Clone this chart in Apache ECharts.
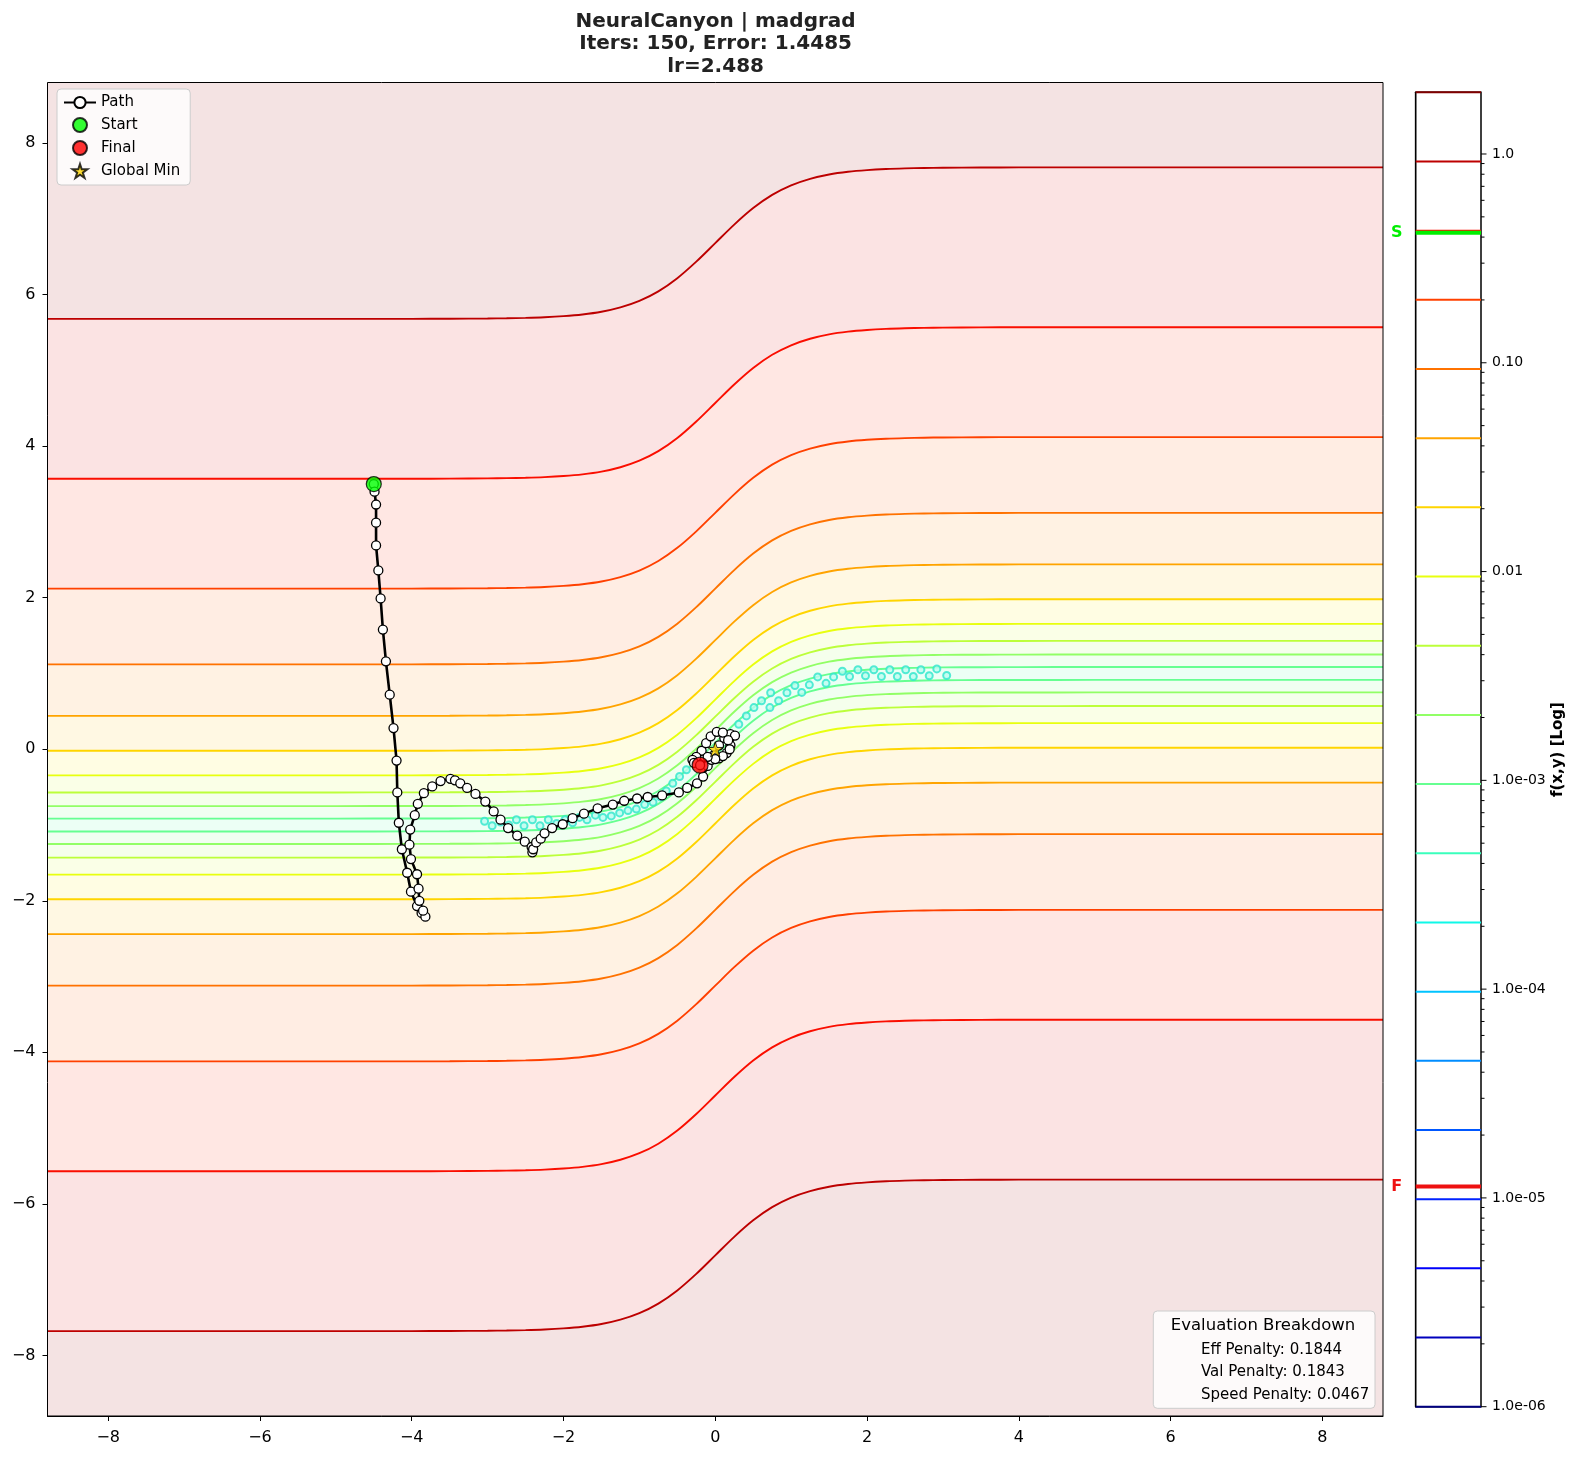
<!DOCTYPE html>
<html>
<head>
<meta charset="utf-8">
<script src="https://cdn.jsdelivr.net/npm/echarts@6/dist/echarts.min.js"></script>
<style>
html, body { margin: 0; padding: 0; background: #fff; }
#chart { width: 1577px; height: 1458px; }
</style>
</head>
<body>
<div id="chart"></div>
<script>
//谷底中心线的过渡形状 (读图: 左侧 -1, 右侧 +1)
var profX = [-8.8, -5, -4, -3.5, -3, -2.75, -2.5, -2.25, -2, -1.75, -1.5, -1.25, -1, -0.75, -0.5, -0.25,
	0, 0.25, 0.5, 0.75, 1, 1.25, 1.5, 1.75, 2, 2.25, 2.5, 2.75, 3, 3.5, 4, 5, 8.8];
var profF = [0, 0, 0.0003, 0.0009, 0.0025, 0.0041, 0.0067, 0.011, 0.018, 0.029, 0.047, 0.076, 0.119, 0.182, 0.269, 0.378,
	0.5, 0.622, 0.731, 0.818, 0.881, 0.924, 0.953, 0.971, 0.982, 0.989, 0.9933, 0.9959, 0.9975, 0.9991, 0.9997, 1, 1];
var valleyLeft = -1;
var valleyRight = 1;

//等高线层级 (颜色条序号) 与到谷底的距离
var levelIdx = [9, 10, 11, 12, 13, 14, 15, 16, 17, 18];
var levelOffset = [0.085, 0.25, 0.43, 0.655, 0.98, 1.44, 2.12, 3.12, 4.57, 6.68];

//优化路径
var pathX = [-4.50, -4.49, -4.47, -4.47, -4.47, -4.44, -4.41, -4.38, -4.34, -4.29,
	-4.24, -4.20, -4.19, -4.17, -4.13, -4.06, -4.01, -3.93, -3.87, -3.82,
	-3.85, -3.90, -3.91, -3.93, -4.01, -4.03, -4.02, -3.96, -3.92, -3.84,
	-3.73, -3.62, -3.49, -3.43, -3.36, -3.27, -3.16, -3.03, -2.92, -2.83,
	-2.73, -2.61, -2.51, -2.42, -2.41, -2.40, -2.36, -2.30, -2.25, -2.15,
	-2.01, -1.88, -1.73, -1.55, -1.35, -1.20, -1.03, -0.89, -0.70, -0.48,
	-0.37, -0.24, -0.16, -0.10, -0.02, 0.05, 0.12, 0.20, 0.26, 0.20,
	0.15, 0.05, -0.05, -0.14, -0.18, -0.12, -0.06, 0.02, 0.10, 0.17,
	0.19, 0.10, 0.00, -0.10, -0.25, -0.30, -0.28, -0.20];
var pathY = [3.50, 3.40, 3.23, 2.99, 2.69, 2.36, 1.99, 1.58, 1.16, 0.72,
	0.28, -0.15, -0.57, -0.97, -1.32, -1.63, -1.88, -2.07, -2.16, -2.21,
	-2.13, -2.00, -1.84, -1.65, -1.45, -1.26, -1.06, -0.87, -0.72, -0.58,
	-0.49, -0.42, -0.39, -0.41, -0.45, -0.51, -0.59, -0.69, -0.82, -0.93,
	-1.04, -1.14, -1.22, -1.29, -1.36, -1.32, -1.23, -1.18, -1.11, -1.04,
	-0.99, -0.91, -0.85, -0.78, -0.73, -0.68, -0.65, -0.63, -0.61, -0.57,
	-0.51, -0.45, -0.36, -0.22, -0.08, 0.05, 0.15, 0.20, 0.18, 0.05,
	-0.05, -0.12, -0.14, -0.10, -0.02, 0.08, 0.17, 0.23, 0.22, 0.12,
	0.00, -0.09, -0.13, -0.10, -0.10, -0.14, -0.18, -0.21];
var startPt = [-4.50, 3.50];
var finalPt = [-0.20, -0.21];
var globalMin = [0, 0];

//谷底的小闭合等高线
var islandX = [-3.04, -2.94, -2.83, -2.72, -2.62, -2.52, -2.41, -2.31, -2.20, -2.09,
	-1.98, -1.88, -1.79, -1.69, -1.58, -1.48, -1.37, -1.26, -1.15, -1.04,
	-0.93, -0.82, -0.72, -0.645, -0.56, -0.47, -0.38,
	0.31, 0.41, 0.51, 0.61, 0.72, 0.73, 0.835, 0.945, 1.05, 1.14,
	1.24, 1.35, 1.46, 1.56, 1.675, 1.77, 1.88, 1.98, 2.09, 2.19,
	2.30, 2.40, 2.51, 2.61, 2.71, 2.82, 2.92, 3.05];
var islandY = [-0.95, -1.01, -0.96, -1.00, -0.93, -1.01, -0.93, -1.01, -0.93, -0.98,
	-0.93, -0.97, -0.90, -0.93, -0.87, -0.90, -0.88, -0.84, -0.81, -0.79,
	-0.73, -0.70, -0.63, -0.55, -0.45, -0.36, -0.27,
	0.33, 0.44, 0.55, 0.64, 0.55, 0.745, 0.64, 0.745, 0.84, 0.75,
	0.85, 0.955, 0.87, 0.955, 1.03, 0.96, 1.05, 0.97, 1.05, 0.96,
	1.05, 0.96, 1.05, 0.96, 1.05, 0.97, 1.06, 0.973];

//颜色条
var cbTicks = [-6, -5, -4, -3, -2, -1, 0];
var cbTickLabels = ['1.0e-06', '1.0e-05', '1.0e-04', '1.0e-03', '0.01', '0.10', '1.0'];
var cbLevelCount = 20;
var cbLogMin = -6;
var cbLogMax = 0.2955;
var startLoss = 0.42;
var finalLoss = 1.135e-5;

//jet 色图
var jetR = [[0, 0], [0.35, 0], [0.66, 1], [0.89, 1], [1, 0.5]];
var jetG = [[0, 0], [0.125, 0], [0.375, 1], [0.64, 1], [0.91, 0], [1, 0]];
var jetB = [[0, 0.5], [0.11, 1], [0.34, 1], [0.65, 0], [1, 0]];
var seg = function(t, p) {
	for(var i = 1; i < p.length; i++) {
		if(t <= p[i][0]) {
			var f = (t - p[i - 1][0]) / (p[i][0] - p[i - 1][0]);
			return p[i - 1][1] + f * (p[i][1] - p[i - 1][1]);
		}
	}
	return p[p.length - 1][1];
};
var jet = function(t, a) {
	var r = seg(t, jetR), g = seg(t, jetG), b = seg(t, jetB);
	if(a != null) {
		r = 1 - a + a * r;
		g = 1 - a + a * g;
		b = 1 - a + a * b;
	}
	return 'rgb(' + Math.round(r * 255) + ',' + Math.round(g * 255) + ',' + Math.round(b * 255) + ')';
};
var fillAlpha = 0.11;
var FONT = 'DejaVu Sans';

var contourData = function(off) {
	return profX.map(function(x, i) {
		return [x, valleyLeft + (valleyRight - valleyLeft) * profF[i] + off];
	});
};

var series = [];
//上下两侧等高线, 内层先画, 外层覆盖
[1, -1].forEach(function(side) {
	for(var i = 0; i < levelIdx.length; i++) {
		var k = levelIdx[i];
		series.push({
			type: 'line',
			silent: true,
			symbol: 'none',
			smooth: 0.3,
			z: 1,
			data: contourData(side * levelOffset[i]),
			lineStyle: { color: jet(k / 19), width: 1.9 },
			areaStyle: { color: jet((k + 0.5) / 19, fillAlpha), opacity: 1, origin: side > 0 ? 'end' : 'start' }
		});
	}
});

series.push({
	type: 'scatter',
	silent: true,
	z: 3,
	symbolSize: 7,
	data: islandX.map(function(x, i) { return [x, islandY[i]]; }),
	itemStyle: { color: '#bdfdf0', borderColor: '#2ee6cc', borderWidth: 2 }
});

series.push({
	name: 'Path',
	type: 'line',
	z: 5,
	symbol: 'circle',
	symbolSize: 9,
	data: pathX.map(function(x, i) { return [x, pathY[i]]; }),
	lineStyle: { color: '#000', width: 2.6 },
	itemStyle: { color: '#fff', borderColor: '#000', borderWidth: 1.3 }
});
series.push({
	name: 'Start',
	type: 'scatter',
	z: 6,
	symbolSize: 15,
	data: [startPt],
	itemStyle: { color: '#00ff00', borderColor: '#000', borderWidth: 1.2 }
});
series.push({
	name: 'Final',
	type: 'scatter',
	z: 6,
	symbolSize: 16,
	data: [finalPt],
	itemStyle: { color: '#ff0000', borderColor: '#000', borderWidth: 1.2 }
});
series.push({
	name: 'Global Min',
	type: 'scatter',
	z: 7,
	symbol: 'path://M50,0 L61.8,36.2 L100,36.2 L69.1,58.6 L80.9,95.1 L50,72.6 L19.1,95.1 L30.9,58.6 L0,36.2 L38.2,36.2 Z',
	symbolSize: 15,
	data: [globalMin],
	itemStyle: { color: '#ffd700', borderColor: '#000', borderWidth: 1 }
});

//颜色条: 层级线, S/F 标记, 主次刻度
var cbItems = [];
for(var k = 0; k < cbLevelCount; k++) {
	cbItems.push({ value: [0, cbLogMin + k * (cbLogMax - cbLogMin) / (cbLevelCount - 1)], kind: 'level', color: jet(k / 19) });
}
cbItems.push({ value: [0, Math.log10(startLoss)], kind: 'mark', color: '#00ee00', text: 'S' });
cbItems.push({ value: [0, Math.log10(finalLoss)], kind: 'mark', color: '#ee1111', text: 'F' });
for(var e = -6; e < 0; e++) {
	for(var m = 2; m < 10; m++) {
		cbItems.push({ value: [0, e + Math.log10(m)], kind: 'tick', len: 3.5 });
	}
}
cbTicks.forEach(function(t) {
	cbItems.push({ value: [0, t], kind: 'tick', len: 5.5 });
});
series.push({
	type: 'custom',
	xAxisIndex: 1,
	yAxisIndex: 1,
	silent: true,
	z: 10,
	data: cbItems.map(function(d) { return d.value; }),
	renderItem: function(params, api) {
		var d = cbItems[params.dataIndex];
		var p0 = api.coord([0, api.value(1)]);
		var p1 = api.coord([1, api.value(1)]);
		if(d.kind === 'tick') {
			return { type: 'line', shape: { x1: p1[0], y1: p1[1], x2: p1[0] + d.len, y2: p1[1] }, style: { stroke: '#000', lineWidth: 1 } };
		}
		if(d.kind === 'level') {
			return { type: 'line', shape: { x1: p0[0], y1: p0[1], x2: p1[0], y2: p1[1] }, style: { stroke: d.color, lineWidth: 2 } };
		}
		return {
			type: 'group',
			children: [{
				type: 'line', shape: { x1: p0[0], y1: p0[1], x2: p1[0], y2: p1[1] }, style: { stroke: d.color, lineWidth: 4 }
			}, {
				type: 'text', x: p0[0] - 19, y: p0[1],
				style: { text: d.text, fill: d.color, font: 'bold 16px ' + FONT, align: 'center', verticalAlign: 'middle' }
			}]
		};
	}
});

var minusFmt = function(v) {
	return String(v).replace('-', '\u2212');
};
var axisTicks = [-8, -6, -4, -2, 0, 2, 4, 6, 8];

var chart = echarts.init(document.getElementById('chart'));
chart.setOption({
	animation: false,
	backgroundColor: '#fff',
	grid: [{
		left: 47.5, top: 82.5, width: 1335.5, height: 1333.5,
		show: true, backgroundColor: jet(8.5 / 19, fillAlpha), borderWidth: 0
	}, {
		left: 1415.7, top: 92.3, width: 65.3, height: 1314.4,
		show: true, backgroundColor: '#fff', borderColor: '#000', borderWidth: 1.5
	}],
	xAxis: [{
		type: 'value', gridIndex: 0, min: -8.8, max: 8.8,
		splitLine: { show: false },
		axisLine: { show: true, onZero: false, lineStyle: { color: '#000', width: 1 } },
		axisTick: { show: true, length: 5, lineStyle: { color: '#000' }, customValues: axisTicks },
		axisLabel: { color: '#000', fontSize: 16, fontFamily: FONT, margin: 14, formatter: minusFmt, customValues: axisTicks }
	}, {
		type: 'value', gridIndex: 1, min: 0, max: 1, show: false
	}],
	yAxis: [{
		type: 'value', gridIndex: 0, min: -8.8, max: 8.8,
		splitLine: { show: false },
		axisLine: { show: true, onZero: false, lineStyle: { color: '#000', width: 1 } },
		axisTick: { show: true, length: 5, lineStyle: { color: '#000' }, customValues: axisTicks },
		axisLabel: { color: '#000', fontSize: 16, fontFamily: FONT, margin: 12, formatter: minusFmt, customValues: axisTicks }
	}, {
		type: 'value', gridIndex: 1, position: 'right', min: cbLogMin, max: cbLogMax,
		splitLine: { show: false },
		axisLine: { show: true, lineStyle: { color: '#000', width: 1.2 } },
		axisTick: { show: false },
		axisLabel: {
			color: '#000', fontSize: 14, fontFamily: FONT, margin: 11, customValues: cbTicks,
			formatter: function(v) { return cbTickLabels[cbTicks.indexOf(Math.round(v))]; }
		},
		name: 'f(x,y) [Log]', nameLocation: 'middle', nameRotate: 90, nameGap: 70,
		nameTextStyle: { color: '#000', fontSize: 15, fontWeight: 'bold', fontFamily: FONT }
	}],
	legend: {
		data: ['Path', 'Start', 'Final', 'Global Min'],
		orient: 'vertical',
		left: 57, top: 89,
		padding: [6, 10, 6, 6],
		itemWidth: 32, itemHeight: 14, itemGap: 7,
		backgroundColor: 'rgba(255,255,255,0.8)',
		borderColor: '#cccccc', borderWidth: 1, borderRadius: 4,
		textStyle: { color: '#000', fontSize: 15, fontFamily: FONT },
		selectedMode: false
	},
	graphic: [{
		type: 'rect', z: 100, silent: true,
		shape: { x: 47.5, y: 82.5, width: 1335.5, height: 1333.5 },
		style: { fill: 'none', stroke: '#000', lineWidth: 1 }
	}, {
		type: 'text', silent: true, z: 100,
		style: {
			x: 715.6, y: 10, text: 'NeuralCanyon | madgrad\nIters: 150, Error: 1.4485\nlr=2.488',
			font: 'bold 20px ' + FONT, fill: '#222', align: 'center', lineHeight: 22.6
		}
	}, {
		type: 'rect', z: 100, silent: true,
		shape: { x: 1153.3, y: 1311, width: 221.7, height: 97.3, r: 4 },
		style: { fill: 'rgba(255,255,255,0.8)', stroke: '#cccccc', lineWidth: 1 }
	}, {
		type: 'text', z: 101, silent: true,
		style: { x: 1263, y: 1326, text: 'Evaluation Breakdown', font: '16.5px ' + FONT, fill: '#000', align: 'center', verticalAlign: 'middle' }
	}, {
		type: 'text', z: 101, silent: true,
		style: { x: 1201, y: 1350, text: 'Eff Penalty: 0.1844', font: '15px ' + FONT, fill: '#000', verticalAlign: 'middle' }
	}, {
		type: 'text', z: 101, silent: true,
		style: { x: 1201, y: 1372.5, text: 'Val Penalty: 0.1843', font: '15px ' + FONT, fill: '#000', verticalAlign: 'middle' }
	}, {
		type: 'text', z: 101, silent: true,
		style: { x: 1201, y: 1395, text: 'Speed Penalty: 0.0467', font: '15px ' + FONT, fill: '#000', verticalAlign: 'middle' }
	}],
	series: series
});
</script>
</body>
</html>
